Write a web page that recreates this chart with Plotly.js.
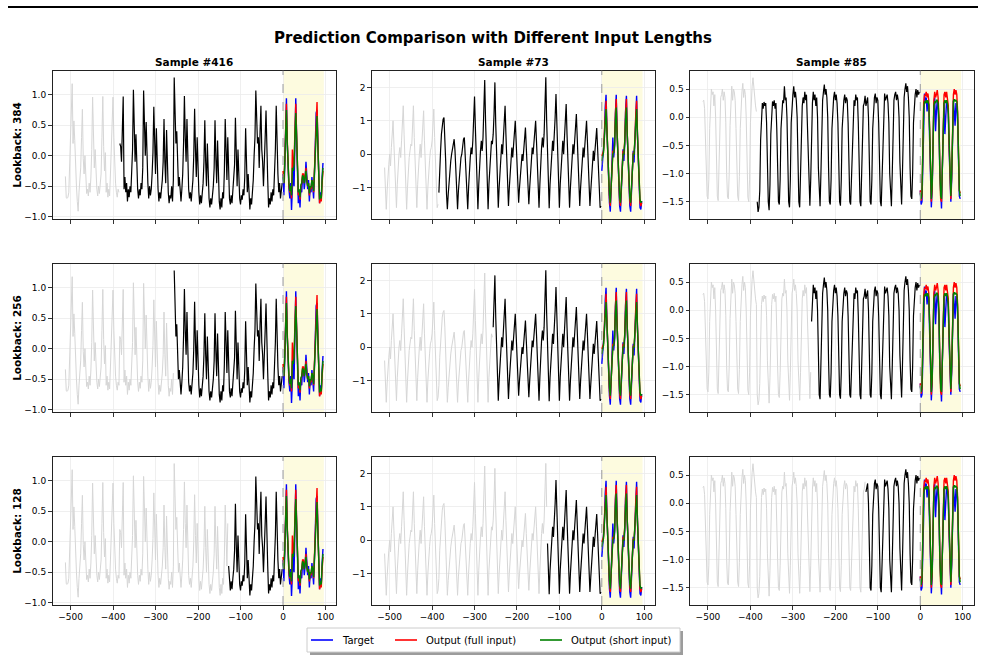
<!DOCTYPE html>
<html><head><meta charset="utf-8">
<script src="https://cdn.plot.ly/plotly-3.0.1.min.js"></script>
<style>html,body{margin:0;padding:0;background:#fff;}#chart{width:985px;height:660px;}</style>
</head><body><div id="chart"></div>
<script>
// ---- data ----
const HIST_START = -512, HIST_STEP = 2;   // history sampled every 2 steps
const PRED_STEP = 2;                        // horizon sampled every 2 steps
const LOOKBACKS = [384, 256, 128];
const SAMPLE_TITLES = ['Sample #416', 'Sample #73', 'Sample #85'];
const ROW_TITLES = ['Lookback: 384', 'Lookback: 256', 'Lookback: 128'];
const X_TICKS = [-500, -400, -300, -200, -100, 0, 100];
const LEGEND_NAMES = ['Target', 'Output (full input)', 'Output (short input)'];

const hist416 = [
 -0.34,-0.69,-0.70,-0.68,-0.60,-0.20,0.20,0.60,
 1.18,0.20,0.57,0.25,-0.28,-0.50,-0.75,-0.91,-0.60,-0.40,-0.20,0.30,
 0.76,-0.05,-0.30,0.00,-0.50,-0.62,-0.55,-0.66,-0.45,-0.60,-0.35,0.10,
 0.96,0.30,-0.20,0.10,-0.40,-0.55,-0.66,-0.50,-0.62,-0.40,-0.30,0.30,
 0.97,0.15,-0.25,0.05,-0.60,-0.45,-0.68,-0.55,-0.66,-0.30,0.26,0.50,
 0.96,0.30,-0.20,-0.45,-0.60,-0.68,-0.55,-0.60,0.20,0.15,-0.10,0.35,
 0.97,-0.55,-0.35,-0.60,-0.45,-0.75,-0.55,-0.68,-0.50,-0.60,-0.30,0.10,
 1.08,0.20,-0.10,0.35,-0.30,-0.55,-0.70,-0.55,-0.65,-0.45,-0.55,-0.20,
 1.07,0.45,0.00,0.55,-0.10,-0.45,-0.70,-0.50,-0.65,-0.55,-0.30,0.05,
 0.80,0.10,-0.30,0.45,-0.20,-0.55,-0.75,-0.60,-0.70,-0.55,-0.40,-0.10,
 0.60,-0.10,-0.45,0.42,-0.30,-0.60,-0.78,-0.65,-0.70,-0.50,-0.75,-0.40,
 1.28,0.48,0.20,0.40,-0.20,-0.50,-0.35,-0.60,-0.75,-0.55,-0.30,0.20,
 0.98,0.30,-0.10,0.60,-0.15,-0.55,-0.70,-0.60,-0.75,-0.55,-0.40,0.00,
 0.77,0.10,-0.35,0.30,-0.30,-0.60,-0.80,-0.65,-0.78,-0.60,-0.45,-0.10,
 0.58,-0.10,-0.50,0.20,-0.40,-0.70,-0.85,-0.70,-0.80,-0.65,-0.50,-0.20,
 0.58,-0.05,-0.45,0.25,-0.35,-0.75,-0.88,-0.70,-0.85,-0.60,-0.70,-0.25,
 0.60,0.00,-0.40,0.30,-0.40,-0.70,-0.80,-0.65,-0.78,-0.60,-0.45,-0.15,
 0.62,-0.05,-0.50,0.10,-0.45,-0.70,-0.80,-0.65,-0.72,-0.55,-0.65,-0.35,
 0.45,-0.25,-0.60,-0.30,-0.75,-0.88,-0.70,-0.80,-0.60,-0.40,0.00,0.30,
 1.07,0.30,0.20,0.30,-0.20,0.40,0.82,0.10,-0.10,-0.50,-0.20,0.30,
 0.74,-0.10,-0.40,-0.85,-0.70,-0.80,-0.60,-0.75,-0.55,-0.65,-0.30,0.10,
 0.82,0.10,-0.30,-0.60,-0.45,-0.70,-0.55,-0.45];
const target416 = [
 -0.30,-0.65,-0.20,0.60,0.94,0.20,-0.40,-0.55,-0.70,-0.45,-0.89,-0.60,
 -0.20,-0.50,0.30,0.94,0.30,-0.30,-0.78,-0.60,-0.85,-0.50,-0.60,-0.35,
 -0.32,-0.55,-0.40,-0.10,-0.45,-0.55,-0.40,-0.75,-0.50,-0.60,-0.35,-0.50,
 -0.70,-0.30,0.20,0.70,0.75,0.10,-0.40,-0.78,-0.60,-0.70,-0.35,-0.12];
const full416 = [
 -0.25,-0.45,-0.10,0.60,0.85,0.25,-0.35,-0.50,-0.60,-0.55,-0.70,0.10,
 -0.20,-0.10,0.40,0.85,0.35,-0.20,-0.65,-0.60,-0.72,-0.50,-0.45,-0.30,
 -0.30,-0.45,-0.30,-0.20,-0.40,-0.50,-0.45,-0.65,-0.50,-0.55,-0.40,-0.45,
 -0.60,-0.20,0.30,0.80,0.88,0.20,-0.30,-0.78,-0.70,-0.75,-0.45,-0.25];
const short416 = [
 -0.35,-0.45,-0.15,0.50,0.75,0.20,-0.30,-0.45,-0.58,-0.50,-0.65,-0.20,
 -0.25,-0.15,0.30,0.70,0.30,-0.20,-0.60,-0.55,-0.68,-0.48,-0.45,-0.32,
 -0.35,-0.45,-0.35,-0.25,-0.42,-0.50,-0.45,-0.62,-0.50,-0.52,-0.40,-0.45,
 -0.58,-0.25,0.20,0.55,0.65,0.15,-0.30,-0.72,-0.65,-0.70,-0.40,-0.20];

const hist73 = [
 -0.40,-1.20,
 -1.65,-1.10,-0.40,-0.30,0.00,-0.35,0.20,0.55,1.00,0.30,-0.30,-1.20,
 -1.60,-0.90,-0.30,0.00,0.20,-0.10,0.40,0.80,1.45,0.60,-0.20,-1.20,
 -1.65,-1.00,-0.35,-0.10,0.10,0.30,0.25,0.90,1.45,0.50,-0.30,-1.30,
 -1.60,-0.90,-0.30,0.00,0.30,-0.10,0.35,0.70,1.30,0.40,-0.40,-1.30,
 -1.65,-1.00,-0.40,-0.20,0.10,0.20,0.40,0.80,1.35,0.50,-0.30,-1.25,
 -1.60,-1.50,-1.15,-0.30,0.10,0.60,0.90,1.05,1.10,0.60,-0.20,-1.20,
 -1.65,-1.20,-0.80,-0.40,-0.20,0.00,0.20,0.40,0.45,0.10,-0.50,-1.30,
 -1.65,-1.10,-0.70,-0.40,-0.10,0.00,0.30,0.45,0.50,0.00,-0.60,-1.30,
 -1.65,-1.00,-0.30,-0.10,0.20,0.00,0.40,1.00,1.73,0.80,-0.20,-1.20,
 -1.65,-0.90,-0.20,0.10,0.40,0.10,0.50,1.30,2.22,1.00,-0.10,-1.20,
 -1.65,-0.90,-0.30,0.20,0.40,0.30,0.60,1.20,2.15,0.90,-0.10,-1.20,
 -1.60,-1.00,-0.40,0.00,0.30,0.00,0.50,0.90,1.45,0.60,-0.20,-1.20,
 -1.55,-1.00,-0.50,-0.10,0.20,-0.10,0.20,0.60,1.00,0.40,-0.30,-1.20,
 -1.45,-1.00,-0.60,-0.30,0.00,-0.20,0.10,0.50,0.80,0.20,-0.40,-1.20,
 -1.50,-1.00,-0.50,-0.10,0.20,0.00,0.30,0.60,1.00,0.40,-0.30,-1.20,
 -1.60,-0.90,-0.20,0.20,0.50,0.20,0.60,1.30,2.30,1.00,-0.10,-1.20,
 -1.62,-0.90,-0.30,0.10,0.40,0.10,0.50,1.10,1.80,0.80,-0.20,-1.20,
 -1.60,-0.90,-0.30,0.10,0.40,0.00,0.40,0.90,1.50,0.60,-0.20,-1.25,
 -1.60,-1.00,-0.40,0.00,0.30,0.00,0.30,0.80,1.20,0.50,-0.30,-1.25,
 -1.55,-1.00,-0.50,-0.10,0.20,-0.10,0.20,0.60,1.00,0.40,-0.30,-1.25,
 -1.55,-1.10,-0.60,-0.20,0.10,-0.20,0.10,0.40,0.78,0.20,-0.50,-1.30,
 -1.60,-1.55];
const target73 = [
 -0.50,-0.10,0.00,0.50,1.40,1.78,0.80,-0.20,-0.90,-1.45,-1.72,-1.00,
 -0.30,0.50,-0.10,0.20,1.20,1.78,0.70,-0.30,-1.00,-1.55,-1.72,-0.90,
 -0.20,0.15,-0.20,0.30,1.30,1.75,0.60,-0.30,-1.00,-1.55,-1.72,-0.90,
 -0.20,0.10,-0.25,0.30,1.30,1.75,0.60,-0.30,-1.00,-1.60,-1.65,-1.40];
const full73 = [
 -0.05,0.05,0.10,0.60,1.30,1.60,0.80,-0.10,-0.80,-1.30,-1.55,-0.90,
 -0.30,0.10,0.05,0.30,1.20,1.65,0.70,-0.20,-0.90,-1.40,-1.55,-0.80,
 -0.20,0.10,0.00,0.40,1.25,1.65,0.60,-0.20,-0.90,-1.40,-1.55,-0.80,
 -0.20,0.05,0.00,0.40,1.20,1.60,0.60,-0.20,-0.90,-1.45,-1.55,-1.45];
const short73 = [
 -0.20,-0.05,0.05,0.50,1.10,1.35,0.70,-0.10,-0.75,-1.20,-1.45,-0.85,
 -0.30,0.00,0.05,0.25,1.00,1.40,0.60,-0.20,-0.85,-1.30,-1.45,-0.80,
 -0.25,0.00,0.00,0.35,1.05,1.40,0.55,-0.20,-0.85,-1.30,-1.45,-0.80,
 -0.25,0.00,0.00,0.35,1.00,1.35,0.55,-0.20,-0.80,-1.35,-1.45,-1.40];

const hist85 = [
 0.28,0.30,0.15,-0.40,-1.10,-1.40,
 -1.45,-1.10,-0.20,0.30,0.50,0.40,0.45,0.20,0.40,0.00,-0.90,-1.40,
 -1.48,-1.00,-0.10,0.35,0.40,0.50,0.30,0.45,0.35,-0.10,-1.00,-1.42,
 -1.45,-1.00,-0.15,0.40,0.55,0.30,0.50,0.45,0.30,-0.20,-1.00,-1.40,
 -1.48,-1.05,-0.20,0.30,0.45,0.60,0.35,0.50,0.40,0.00,-0.90,-1.42,
 -1.50,-1.10,-0.10,0.40,0.55,0.70,0.50,0.30,0.20,0.10,-1.50,-1.68,
 -1.60,-1.30,-0.40,0.10,0.25,0.15,0.27,0.20,0.25,-0.10,-0.90,-1.50,
 -1.65,-1.20,-0.30,0.10,0.28,0.20,0.30,0.15,0.25,-0.20,-1.00,-1.50,
 -1.55,-1.10,-0.20,0.20,0.30,0.25,0.55,0.30,0.35,0.00,-0.90,-1.50,
 -1.60,-1.10,-0.10,0.30,0.40,0.55,0.35,0.45,0.30,0.00,-0.90,-1.50,
 -1.60,-1.10,-0.20,0.20,0.35,0.25,0.45,0.30,0.40,-0.10,-1.00,-1.50,
 -1.57,-1.10,-0.20,0.25,0.45,0.30,0.40,0.20,0.35,0.00,-0.90,-1.50,
 -1.58,-1.00,-0.10,0.30,0.45,0.58,0.40,0.50,0.35,0.00,-0.90,-1.50,
 -1.55,-1.10,-0.20,0.20,0.35,0.45,0.30,0.40,0.25,-0.10,-1.00,-1.50,
 -1.57,-1.10,-0.20,0.20,0.30,0.40,0.25,0.35,0.30,-0.10,-1.00,-1.50,
 -1.55,-1.10,-0.30,0.15,0.30,0.20,0.40,0.30,0.35,-0.10,-0.90,-1.50,
 -1.58,-1.10,-0.20,0.20,0.25,0.38,0.20,0.30,0.35,0.00,-1.00,-1.50,
 -1.55,-1.10,-0.20,0.25,0.35,0.42,0.25,0.35,0.30,-0.10,-0.90,-1.50,
 -1.58,-1.10,-0.20,0.20,0.42,0.30,0.35,0.40,0.25,-0.10,-1.00,-1.50,
 -1.58,-1.00,-0.10,0.30,0.40,0.45,0.30,0.40,0.30,0.00,-0.80,-1.45,
 -1.55,-1.00,0.00,0.35,0.50,0.60,0.45,0.55,0.35,0.00,-0.90,-1.40,
 -1.45,-1.00,-0.10,0.30,0.40,0.50,0.35,0.48,0.40,0.45];
const target85 = [
 -1.30,-1.55,-1.50,-0.60,0.20,0.42,0.25,0.35,0.10,0.30,0.20,-0.30,
 -1.20,-1.60,-1.30,-0.40,0.20,0.35,-0.25,0.10,0.30,0.15,-0.20,-1.00,
 -1.55,-1.62,-0.90,-0.10,0.25,-0.30,0.10,0.30,0.20,0.05,-0.60,-1.40,
 -1.50,-1.10,-0.20,0.30,0.10,-0.15,0.25,0.20,-0.10,-0.90,-1.40,-1.45];
const full85 = [
 -1.30,-1.48,-1.40,-0.50,0.25,0.40,0.38,0.45,0.35,0.42,0.30,-0.20,
 -1.10,-1.50,-1.25,-0.40,0.30,0.45,0.35,0.40,0.48,0.35,0.00,-0.90,
 -1.45,-1.50,-0.80,0.00,0.40,0.45,0.35,0.45,0.35,0.20,-0.50,-1.35,
 -1.45,-1.00,-0.10,0.40,0.50,0.40,0.48,0.40,0.10,-0.80,-1.30,-1.35];
const short85 = [
 -1.35,-1.45,-1.35,-0.50,0.15,0.28,0.25,0.30,0.25,0.30,0.22,-0.20,
 -1.05,-1.45,-1.20,-0.40,0.20,0.28,0.25,0.30,0.30,0.25,-0.05,-0.90,
 -1.40,-1.45,-0.80,-0.05,0.25,0.30,0.25,0.30,0.25,0.10,-0.50,-1.30,
 -1.40,-1.00,-0.15,0.28,0.32,0.28,0.30,0.28,0.05,-0.80,-1.30,-1.40];

const HIST = [hist416, hist73, hist85];
const TARGET = [target416, target73, target85];
const FULL = [full416, full73, full85];
const SHORT = [short416, short73, short85];

// ---- layout geometry (pixels of the 985x660 figure) ----
const W = 985, H = 660;
const COLS = [[52.5, 336.3], [371.7, 655], [690, 973.5]];
const ROWS = [[70.7, 219], [263.7, 412], [456.7, 605]];
const X_RANGE = [-542.35, 125.35];
const Y_RANGES = [[-1.038, 1.393], [-1.94, 2.50], [-1.807, 0.825]];
const Y_DTICK = [0.5, 1, 0.5];
const Y_FMT = ['.1f', 'd', '.1f'];
const PRED_SPAN = 96;

const COLORS = ['#0000ff', '#ff0000', '#008000'];
const FONT = 'DejaVu Sans, sans-serif';

const traces = [];
const layout = {
  width: W, height: H, margin: {l: 0, r: 0, t: 0, b: 0},
  paper_bgcolor: '#fff', plot_bgcolor: '#fff',
  font: {family: FONT, size: 9, color: '#000'},
  showlegend: false,
  shapes: [], annotations: []
};
const px2x = p => p / W, px2y = p => 1 - p / H;

// top rule
layout.shapes.push({type: 'line', xref: 'paper', yref: 'paper', x0: px2x(8), x1: px2x(978), y0: px2y(7), y1: px2y(7),
  line: {color: '#000', width: 2.2}});

layout.annotations.push({text: '<b>Prediction Comparison with Different Input Lengths</b>', xref: 'paper', yref: 'paper',
  x: px2x(493), y: px2y(38), xanchor: 'center', yanchor: 'middle', showarrow: false, font: {size: 15, family: FONT, color: '#000'}});

// legend (drawn as box + line samples + text)
const LEG_BOX = [307, 628, 680, 652];
const LEG_LINE_X = [[311, 333], [395, 417], [540, 562]];
const LEG_TEXT_X = [340, 424, 569];
layout.shapes.push({type: 'rect', xref: 'paper', yref: 'paper', x0: px2x(LEG_BOX[0] + 3), x1: px2x(LEG_BOX[2] + 3),
  y0: px2y(LEG_BOX[3] + 3), y1: px2y(LEG_BOX[1] + 3), fillcolor: '#9c9c9c', line: {width: 0}});
layout.shapes.push({type: 'rect', xref: 'paper', yref: 'paper', x0: px2x(LEG_BOX[0]), x1: px2x(LEG_BOX[2]),
  y0: px2y(LEG_BOX[3]), y1: px2y(LEG_BOX[1]), fillcolor: '#fff', line: {color: '#cccccc', width: 1}});
const legY = (LEG_BOX[1] + LEG_BOX[3]) / 2;
LEGEND_NAMES.forEach((name, j) => {
  layout.shapes.push({type: 'line', xref: 'paper', yref: 'paper', x0: px2x(LEG_LINE_X[j][0]), x1: px2x(LEG_LINE_X[j][1]),
    y0: px2y(legY), y1: px2y(legY), line: {color: COLORS[j], width: 1.6}});
  layout.annotations.push({text: name, xref: 'paper', yref: 'paper', x: px2x(LEG_TEXT_X[j]), y: px2y(legY),
    xanchor: 'left', yanchor: 'middle', showarrow: false, font: {size: 10, family: FONT, color: '#000'}});
});

for (let r = 0; r < 3; r++) {
  for (let c = 0; c < 3; c++) {
    const i = r*3 + c + 1;
    const xa = 'x' + i, ya = 'y' + i;
    const xs = HIST[c].map((_, k) => HIST_START + k*HIST_STEP);
    const lb = LOOKBACKS[r];
    const gx = [], gy = [], bx = [], by = [];
    xs.forEach((x, k) => { if (x < -lb) { gx.push(x); gy.push(HIST[c][k]); } else { bx.push(x); by.push(HIST[c][k]); } });
    const px = TARGET[c].map((_, k) => k*PRED_STEP);
    traces.push({x: gx, y: gy, xaxis: xa, yaxis: ya, mode: 'lines', line: {color: '#d6d6d6', width: 1}, hoverinfo: 'skip'});
    traces.push({x: bx, y: by, xaxis: xa, yaxis: ya, mode: 'lines', line: {color: '#000', width: 1.2}, hoverinfo: 'skip'});
    [TARGET, FULL, SHORT].forEach((S, j) => {
      traces.push({x: px, y: S[c], xaxis: xa, yaxis: ya, mode: 'lines', name: LEGEND_NAMES[j], line: {color: COLORS[j], width: 1.4}});
    });

    layout['xaxis' + i] = {domain: [px2x(COLS[c][0]), px2x(COLS[c][1])], range: X_RANGE, anchor: ya,
      tickvals: X_TICKS, showticklabels: r === 2, ticks: 'outside', ticklen: 3.5, tickwidth: 0.8, tickcolor: '#000',
      showgrid: true, gridcolor: '#ebebeb', gridwidth: 0.8, zeroline: false,
      showline: true, linecolor: '#222', linewidth: 1, mirror: true, tickfont: {size: 9, family: FONT}};
    layout['yaxis' + i] = {domain: [px2y(ROWS[r][1]), px2y(ROWS[r][0])], range: Y_RANGES[c], anchor: xa,
      dtick: Y_DTICK[c], tick0: 0, tickformat: Y_FMT[c], ticks: 'outside', ticklen: 3.5, tickwidth: 0.8, tickcolor: '#000',
      showgrid: true, gridcolor: '#ebebeb', gridwidth: 0.8, zeroline: false,
      showline: true, linecolor: '#222', linewidth: 1, mirror: true, tickfont: {size: 9, family: FONT}};

    layout.shapes.push({type: 'rect', xref: xa, yref: ya + ' domain', x0: 0, x1: PRED_SPAN, y0: 0, y1: 1,
      fillcolor: '#fdfbdf', line: {width: 0}, layer: 'below'});
    layout.shapes.push({type: 'line', xref: xa, yref: ya + ' domain', x0: 0, x1: 0, y0: 0, y1: 1,
      line: {color: '#9a9a9a', width: 1, dash: 'dash'}, layer: 'above'});

    if (r === 0) {
      layout.annotations.push({text: '<b>' + SAMPLE_TITLES[c] + '</b>', xref: 'paper', yref: 'paper',
        x: px2x((COLS[c][0] + COLS[c][1]) / 2), y: px2y(62), xanchor: 'center', yanchor: 'middle', showarrow: false,
        font: {size: 10.5, family: FONT, color: '#000'}});
    }
    if (c === 0) {
      layout.annotations.push({text: '<b>' + ROW_TITLES[r] + '</b>', xref: 'paper', yref: 'paper',
        x: px2x(17), y: px2y((ROWS[r][0] + ROWS[r][1]) / 2), xanchor: 'center', yanchor: 'middle', showarrow: false,
        textangle: -90, font: {size: 10.5, family: FONT, color: '#000'}});
    }
  }
}

Plotly.newPlot('chart', traces, layout, {staticPlot: true, displayModeBar: false});
</script>
</body></html>
